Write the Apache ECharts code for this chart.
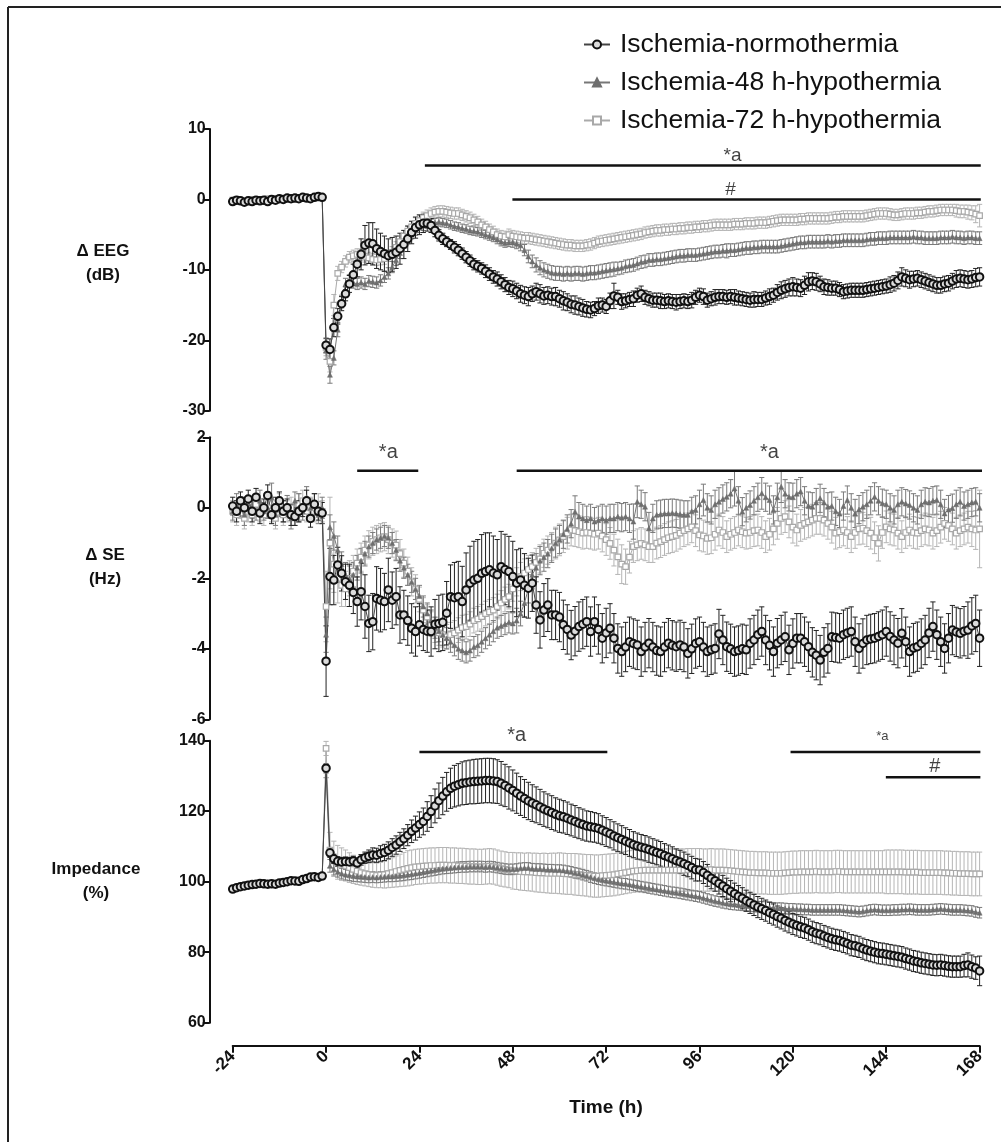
<!DOCTYPE html>
<html>
<head>
<meta charset="utf-8">
<script src="https://cdn.jsdelivr.net/npm/echarts@6/dist/echarts.min.js"></script>
<style>html,body{margin:0;padding:0;background:#fff;}#c{width:1001px;height:1142px;}</style>
</head>
<body>
<div id="c"></div>
<script>
// ---------------- DATA ----------------
const names = ['Ischemia-normothermia', 'Ischemia-48 h-hypothermia', 'Ischemia-72 h-hypothermia'];
const xTicks = [-24, 0, 24, 48, 72, 96, 120, 144, 168];
const hours = []; for (let h = -24; h <= 168; h++) hours.push(h);

// Panel 1: delta EEG (dB)
const eegN = [
-0.3,-0.1,-0.2,-0.4,-0.2,-0.3,-0.1,-0.2,-0.1,-0.3,0.0,-0.1,0.1,0.0,0.2,0.1,0.2,0.1,0.3,0.2,0.1,0.3,0.4,0.3,
-20.7,-21.3,-18.2,-16.6,-14.8,-13.4,-12.0,-10.7,-9.2,-7.8,-6.5,-6.2,
-6.3,-7.0,-7.4,-7.7,-8.0,-7.8,-7.5,-7.0,-6.4,-5.6,-4.7,-4.0,
-3.6,-3.4,-3.4,-3.7,-4.4,-5.1,-5.6,-6.0,-6.4,-6.8,-7.2,-7.7,
-8.2,-8.7,-9.2,-9.5,-9.8,-10.2,-10.6,-11.0,-11.3,-11.7,-12.1,-12.5,
-12.7,-13.0,-13.4,-13.6,-13.8,-13.4,-13.1,-13.4,-13.7,-13.6,-13.8,-13.8,
-14.1,-14.4,-14.6,-14.9,-15.0,-15.2,-15.4,-15.6,-15.7,-15.5,-15.1,-15.0,
-15.2,-14.4,-13.7,-13.9,-14.5,-14.4,-14.2,-14.1,-13.6,-13.4,-13.9,-14.1,
-14.3,-14.3,-14.4,-14.5,-14.4,-14.5,-14.6,-14.5,-14.4,-14.5,-14.3,-13.9,
-13.6,-13.8,-14.3,-14.1,-13.9,-13.8,-13.8,-13.9,-13.8,-13.9,-14.0,-14.1,
-14.2,-14.3,-14.2,-14.2,-14.2,-14.0,-13.8,-13.6,-13.2,-12.9,-12.7,-12.5,
-12.4,-12.5,-12.6,-12.2,-11.7,-11.6,-11.7,-12.0,-12.4,-12.5,-12.6,-12.6,
-12.8,-13.1,-13.0,-12.9,-12.9,-12.9,-12.9,-12.8,-12.7,-12.6,-12.5,-12.4,
-12.3,-12.1,-11.9,-11.5,-11.0,-11.2,-11.4,-11.3,-11.2,-11.4,-11.6,-11.8,
-12.0,-12.2,-12.2,-12.0,-11.9,-11.6,-11.3,-11.2,-11.3,-11.4,-11.3,-11.1,-11.0];
const eegNErr = [
0.3,0.2,0.3,0.3,0.2,0.3,0.2,0.3,0.3,0.2,0.3,0.3,0.2,0.3,0.2,0.3,0.3,0.2,0.3,0.2,0.3,0.3,0.2,0.3,
1.0,1.5,1.3,1.1,1.0,1.0,1.2,1.5,1.8,2.2,2.8,2.9,
3.0,2.8,2.6,2.5,2.4,2.4,2.3,2.2,2.0,1.8,1.6,1.5,
1.4,1.3,1.1,1.0,0.9,0.8,0.8,0.7,0.7,0.8,0.8,0.8,
0.8,0.8,0.8,0.8,0.8,0.9,0.9,0.9,1.0,1.0,1.0,1.0,
1.1,1.1,1.2,1.2,1.3,1.1,1.2,1.3,1.2,1.2,1.2,1.3,
1.2,1.3,1.2,1.2,1.3,1.2,1.2,1.1,1.1,1.0,1.1,1.0,
1.0,1.1,1.8,1.0,1.1,1.0,1.0,1.1,1.0,1.1,1.0,1.0,
1.0,1.0,1.1,1.0,1.0,1.0,1.1,1.0,1.0,1.0,1.1,1.0,
1.0,1.1,1.0,1.0,1.1,1.0,1.0,1.0,1.0,1.1,1.0,1.0,
1.0,1.0,1.1,1.0,1.0,1.0,1.1,1.0,1.1,1.2,1.2,1.2,
1.3,1.2,1.2,1.3,1.3,1.2,1.2,1.1,1.1,1.1,1.0,1.0,
1.0,1.0,1.0,1.0,1.0,1.0,1.0,1.0,1.0,1.0,1.0,1.0,
1.0,1.1,1.1,1.2,1.3,1.2,1.2,1.1,1.1,1.1,1.1,1.1,
1.1,1.1,1.1,1.1,1.1,1.1,1.2,1.2,1.2,1.2,1.2,1.3,1.3];
const eeg48 = [
-0.2,-0.1,-0.2,-0.3,-0.2,-0.2,-0.1,-0.1,-0.2,-0.2,-0.1,0.0,0.0,0.1,0.1,0.0,0.1,0.2,0.1,0.1,0.2,0.2,0.3,0.2,
-21.5,-24.9,-22.5,-18.5,-14.5,-12.0,-11.5,-11.8,-12.0,-11.8,-12.0,-11.6,
-11.7,-11.8,-11.5,-11.0,-10.5,-9.6,-8.6,-7.6,-6.6,-5.6,-4.9,-4.4,
-4.0,-3.7,-3.5,-3.4,-3.3,-3.2,-3.3,-3.4,-3.6,-3.8,-3.9,-4.1,
-4.2,-4.4,-4.5,-4.6,-4.8,-5.0,-5.2,-5.4,-5.7,-6.0,-6.2,-6.1,
-6.1,-6.3,-6.5,-7.2,-8.1,-8.8,-9.3,-9.7,-10.0,-10.2,-10.4,-10.5,
-10.5,-10.6,-10.5,-10.6,-10.5,-10.5,-10.6,-10.5,-10.4,-10.4,-10.3,-10.2,
-10.1,-10.0,-9.9,-9.8,-9.7,-9.5,-9.4,-9.3,-9.1,-8.9,-8.8,-8.6,
-8.6,-8.5,-8.5,-8.4,-8.3,-8.2,-8.1,-8.0,-8.0,-7.9,-7.9,-7.9,
-7.8,-7.7,-7.6,-7.5,-7.4,-7.4,-7.3,-7.3,-7.2,-7.2,-7.1,-7.0,
-6.9,-6.9,-6.8,-6.8,-6.7,-6.7,-6.7,-6.7,-6.7,-6.6,-6.5,-6.4,
-6.3,-6.2,-6.1,-6.1,-6.0,-6.0,-6.0,-6.0,-6.0,-5.9,-6.0,-5.9,
-5.9,-5.8,-5.8,-5.8,-5.8,-5.8,-5.8,-5.7,-5.6,-5.6,-5.5,-5.5,
-5.5,-5.4,-5.4,-5.4,-5.4,-5.4,-5.4,-5.3,-5.4,-5.4,-5.5,-5.5,
-5.5,-5.5,-5.4,-5.4,-5.4,-5.3,-5.4,-5.4,-5.5,-5.4,-5.4,-5.5,-5.5];
const eeg48Err = [
0.2,0.2,0.2,0.2,0.2,0.2,0.2,0.2,0.2,0.2,0.2,0.2,0.2,0.2,0.2,0.2,0.2,0.2,0.2,0.2,0.2,0.2,0.2,0.2,
1.2,1.2,1.0,1.0,0.9,0.8,0.8,0.8,0.8,0.8,0.8,0.8,
0.8,0.8,0.8,0.8,0.8,0.8,0.8,0.8,0.8,0.7,0.7,0.7,
0.7,0.7,0.6,0.6,0.6,0.6,0.6,0.6,0.6,0.6,0.6,0.6,
0.6,0.6,0.6,0.6,0.6,0.6,0.6,0.6,0.6,0.6,0.6,0.6,
0.7,0.7,0.8,0.8,0.9,0.9,1.0,1.0,1.0,1.0,1.0,1.0,
1.0,1.0,1.0,1.0,1.0,1.0,1.0,1.0,1.0,1.0,1.0,1.0,
1.0,1.0,1.0,0.9,0.9,0.9,0.9,0.9,0.9,0.9,0.9,0.9,
0.9,0.9,0.9,0.9,0.9,0.9,0.9,0.9,0.9,0.9,0.9,0.9,
0.9,0.9,0.9,0.9,0.9,0.9,0.9,1.0,0.9,0.9,0.9,0.9,
0.9,0.9,0.9,0.9,0.9,0.9,0.9,0.9,0.9,0.9,0.9,0.9,
0.9,0.9,0.9,0.9,0.9,0.9,0.9,0.9,0.9,0.9,0.9,0.9,
0.9,0.9,0.9,0.9,0.9,0.9,0.9,0.9,0.9,0.9,0.9,0.9,
0.9,0.9,0.9,0.9,0.9,0.9,0.9,0.9,0.9,0.9,0.9,0.9,
0.9,0.9,0.9,0.9,0.9,0.9,0.9,0.9,0.9,0.9,0.9,0.9,0.9];
const eeg72 = [
-0.1,0.0,-0.1,-0.2,-0.1,0.0,0.0,-0.1,0.0,0.1,0.0,0.1,0.1,0.0,0.1,0.2,0.1,0.1,0.2,0.2,0.1,0.2,0.3,0.2,
-21.0,-23.0,-15.0,-10.5,-9.6,-8.8,-8.2,-8.0,-7.8,-7.9,-8.1,-8.3,
-8.5,-8.6,-8.5,-8.4,-8.0,-7.5,-6.8,-6.0,-5.2,-4.5,-3.9,-3.4,
-3.0,-2.6,-2.3,-2.0,-1.8,-1.7,-1.7,-1.8,-1.9,-2.0,-2.0,-2.2,
-2.4,-2.6,-2.9,-3.2,-3.6,-3.9,-4.3,-4.6,-5.0,-5.2,-5.3,-5.0,
-5.2,-5.3,-5.4,-5.5,-5.5,-5.6,-5.7,-5.8,-5.9,-6.0,-6.1,-6.2,
-6.3,-6.4,-6.5,-6.5,-6.6,-6.6,-6.6,-6.5,-6.4,-6.2,-6.0,-5.9,
-5.8,-5.7,-5.6,-5.5,-5.4,-5.3,-5.2,-5.1,-5.0,-4.9,-4.7,-4.6,
-4.5,-4.4,-4.4,-4.3,-4.3,-4.2,-4.2,-4.1,-4.1,-4.0,-4.0,-3.9,
-3.9,-3.8,-3.8,-3.7,-3.6,-3.6,-3.6,-3.6,-3.6,-3.5,-3.5,-3.5,
-3.4,-3.4,-3.4,-3.3,-3.3,-3.3,-3.2,-3.1,-3.0,-2.9,-2.9,-2.9,
-2.9,-2.9,-2.8,-2.8,-2.7,-2.7,-2.7,-2.7,-2.7,-2.7,-2.6,-2.5,
-2.5,-2.4,-2.4,-2.4,-2.4,-2.4,-2.4,-2.3,-2.2,-2.1,-2.0,-2.0,
-2.0,-2.1,-2.2,-2.2,-2.1,-2.0,-2.0,-2.0,-1.9,-1.9,-1.8,-1.7,
-1.7,-1.6,-1.5,-1.5,-1.5,-1.5,-1.6,-1.7,-1.7,-1.8,-1.9,-2.1,-2.3];
const eeg72Err = [
0.2,0.2,0.2,0.2,0.2,0.2,0.2,0.2,0.2,0.2,0.2,0.2,0.2,0.2,0.2,0.2,0.2,0.2,0.2,0.2,0.2,0.2,0.2,0.2,
1.2,1.5,1.5,1.0,0.8,0.8,0.8,0.8,0.8,0.8,0.8,0.8,
0.8,0.8,0.8,0.8,0.8,0.8,0.8,0.8,0.8,0.8,0.8,0.8,
0.8,0.8,0.8,0.8,0.8,0.8,0.8,0.8,0.8,0.8,0.8,0.8,
0.8,0.8,0.8,0.8,0.8,0.8,0.8,0.8,0.8,0.8,0.8,0.8,
0.8,0.8,0.8,0.8,0.8,0.8,0.8,0.8,0.8,0.8,0.8,0.8,
0.8,0.8,0.8,0.8,0.8,0.8,0.8,0.8,0.8,0.8,0.8,0.8,
0.8,0.8,0.8,0.8,0.8,0.8,0.8,0.8,0.8,0.8,0.8,0.8,
0.8,0.8,0.8,0.8,0.8,0.8,0.8,0.8,0.8,0.8,0.8,0.8,
0.8,0.8,0.8,0.8,0.8,0.8,0.8,0.8,0.8,0.8,0.8,0.8,
0.8,0.8,0.8,0.8,0.8,0.8,0.8,0.8,0.8,0.8,0.8,0.8,
0.8,0.8,0.8,0.8,0.8,0.8,0.8,0.8,0.8,0.8,0.8,0.8,
0.8,0.8,0.8,0.8,0.8,0.8,0.8,0.8,0.8,0.8,0.8,0.8,
0.8,0.8,0.8,0.8,0.8,0.8,0.8,0.8,0.8,0.8,0.8,0.8,
0.8,0.8,0.8,0.8,0.8,0.8,0.9,0.9,0.9,1.0,1.0,1.2,1.6];

// Panel 2: delta SE (Hz)
const seN = [
0.05,-0.1,0.2,0.0,0.25,-0.1,0.3,-0.15,0.0,0.35,-0.2,0.0,0.2,-0.1,0.0,-0.2,-0.25,-0.1,0.0,0.2,-0.3,0.1,-0.1,-0.15,
-4.35,-1.95,-2.05,-1.62,-1.86,-2.1,-2.2,-2.4,-2.66,-2.38,-2.8,-3.28,
-3.23,-2.57,-2.62,-2.66,-2.33,-2.62,-2.52,-3.04,-3.04,-3.2,-3.42,-3.51,
-3.32,-3.45,-3.5,-3.51,-3.3,-3.28,-3.25,-2.99,-2.52,-2.55,-2.52,-2.66,
-2.33,-2.14,-2.05,-2.0,-1.86,-1.81,-1.76,-1.85,-1.9,-1.67,-1.75,-1.81,
-1.95,-2.14,-2.05,-2.2,-2.28,-2.14,-2.76,-3.18,-2.9,-2.76,-3.04,-3.04,
-3.1,-3.32,-3.45,-3.61,-3.5,-3.37,-3.3,-3.23,-3.51,-3.23,-3.45,-3.7,
-3.55,-3.42,-3.7,-3.99,-4.08,-3.95,-3.8,-3.85,-3.89,-4.08,-3.95,-3.84,
-3.95,-4.05,-4.08,-3.95,-3.84,-3.9,-3.94,-3.89,-3.95,-4.13,-4.0,-3.85,
-3.8,-3.95,-4.08,-4.03,-3.99,-3.58,-3.75,-3.94,-4.0,-4.08,-4.05,-4.0,
-4.03,-3.85,-3.75,-3.6,-3.51,-3.75,-3.9,-4.08,-3.84,-3.75,-3.66,-4.03,
-3.85,-3.7,-3.7,-3.8,-3.94,-4.1,-4.18,-4.32,-4.1,-3.99,-3.66,-3.68,
-3.7,-3.6,-3.55,-3.51,-3.8,-3.99,-3.85,-3.75,-3.72,-3.7,-3.65,-3.6,
-3.51,-3.65,-3.75,-3.84,-3.56,-3.8,-4.08,-3.98,-3.94,-3.85,-3.75,-3.55,
-3.37,-3.6,-3.8,-3.99,-3.7,-3.47,-3.52,-3.56,-3.5,-3.47,-3.35,-3.28,-3.7];
const seNErr = [
0.25,0.3,0.25,0.3,0.25,0.3,0.25,0.3,0.25,0.3,0.25,0.3,0.25,0.3,0.25,0.3,0.25,0.3,0.25,0.3,0.25,0.3,0.25,0.3,
1.0,0.8,0.7,0.5,0.5,0.5,0.6,0.6,0.7,0.8,0.9,0.8,
0.8,0.9,0.9,0.8,0.9,0.8,0.8,0.8,0.7,0.7,0.7,0.7,
0.6,0.6,0.6,0.7,0.7,0.8,0.8,0.9,0.9,1.0,1.0,1.0,
1.05,1.05,1.1,1.1,1.1,1.1,1.05,1.05,1.0,1.0,1.0,1.0,
1.0,0.95,0.9,0.9,0.85,0.8,0.8,0.8,0.75,0.75,0.7,0.7,
0.7,0.7,0.7,0.7,0.7,0.7,0.7,0.7,0.7,0.7,0.7,0.7,
0.7,0.7,0.7,0.7,0.7,0.7,0.7,0.7,0.7,0.7,0.7,0.7,
0.7,0.7,0.7,0.7,0.7,0.7,0.7,0.7,0.7,0.7,0.7,0.7,
0.7,0.7,0.7,0.7,0.7,0.7,0.7,0.7,0.7,0.7,0.7,0.7,
0.7,0.7,0.7,0.7,0.7,0.7,0.7,0.7,0.7,0.7,0.7,0.7,
0.7,0.7,0.7,0.7,0.7,0.7,0.7,0.7,0.7,0.7,0.7,0.7,
0.7,0.7,0.7,0.7,0.7,0.7,0.7,0.7,0.7,0.7,0.7,0.7,
0.7,0.7,0.7,0.7,0.7,0.7,0.7,0.7,0.7,0.7,0.7,0.7,
0.7,0.7,0.7,0.7,0.7,0.7,0.7,0.7,0.7,0.8,0.8,0.8,0.8];
const se48 = [
-0.1,0.1,0.0,-0.2,0.1,0.0,-0.1,0.2,-0.1,0.0,0.3,-0.2,0.0,-0.1,0.1,-0.3,0.2,0.0,-0.1,0.3,0.0,0.1,-0.2,0.0,
-3.6,-0.55,-0.8,-1.2,-1.6,-1.9,-2.0,-1.9,-1.7,-1.5,-1.3,-1.1,
-1.0,-0.9,-0.85,-0.8,-0.85,-1.0,-1.2,-1.5,-1.7,-1.9,-2.1,-2.3,
-2.5,-2.8,-3.0,-3.2,-3.4,-3.5,-3.6,-3.7,-3.8,-3.9,-4.0,-4.05,
-4.1,-4.05,-3.95,-3.9,-3.8,-3.7,-3.6,-3.5,-3.4,-3.35,-3.3,-3.25,
-3.28,-3.2,-3.0,-2.7,-2.3,-1.9,-1.7,-1.5,-1.4,-1.3,-1.15,-1.0,
-0.9,-0.75,-0.6,-0.45,-0.11,-0.25,-0.3,-0.35,-0.3,-0.39,-0.35,-0.3,
-0.35,-0.3,-0.3,-0.25,-0.28,-0.25,-0.3,-0.39,0.17,0.1,0.03,-0.58,
-0.3,-0.2,-0.18,-0.16,-0.16,-0.15,-0.16,-0.18,-0.2,-0.2,-0.1,-0.06,
0.1,0.22,0.0,-0.06,0.1,0.17,0.25,0.31,0.4,0.55,0.2,-0.11,
0.0,0.08,0.2,0.3,0.41,0.3,0.22,-0.06,0.3,0.6,0.4,0.31,
0.3,0.4,0.46,0.2,0.05,0.03,0.15,0.27,0.15,0.03,0.05,-0.1,
-0.16,0.05,0.22,0.0,-0.16,-0.05,0.03,0.1,0.2,0.31,0.2,0.13,
0.1,0.0,-0.06,0.1,0.17,0.12,0.08,0.0,-0.06,0.1,0.17,0.15,
0.2,0.22,0.1,-0.16,-0.05,-0.01,0.1,0.17,0.05,0.1,0.15,0.17,0.0];
const se48Err = [
0.25,0.3,0.25,0.3,0.25,0.3,0.25,0.3,0.25,0.3,0.4,0.3,0.25,0.3,0.25,0.3,0.25,0.4,0.25,0.3,0.25,0.3,0.25,0.3,
0.5,0.35,0.4,0.4,0.35,0.35,0.35,0.35,0.35,0.35,0.35,0.3,
0.3,0.3,0.3,0.3,0.3,0.3,0.3,0.3,0.3,0.3,0.3,0.3,
0.3,0.3,0.3,0.3,0.3,0.3,0.3,0.3,0.3,0.3,0.3,0.3,
0.3,0.3,0.3,0.3,0.3,0.3,0.3,0.3,0.3,0.3,0.3,0.3,
0.3,0.35,0.35,0.4,0.4,0.4,0.4,0.4,0.4,0.4,0.4,0.4,
0.4,0.4,0.4,0.4,0.45,0.4,0.4,0.4,0.4,0.4,0.4,0.4,
0.4,0.4,0.4,0.4,0.4,0.4,0.4,0.5,0.45,0.4,0.4,0.45,
0.4,0.4,0.4,0.4,0.4,0.4,0.4,0.4,0.4,0.4,0.4,0.4,
0.4,0.45,0.4,0.4,0.4,0.4,0.4,0.4,0.4,0.5,0.4,0.4,
0.4,0.4,0.4,0.4,0.45,0.4,0.4,0.4,0.4,0.45,0.4,0.4,
0.4,0.4,0.4,0.4,0.4,0.4,0.4,0.4,0.4,0.4,0.4,0.4,
0.4,0.4,0.4,0.4,0.4,0.4,0.4,0.4,0.4,0.4,0.4,0.4,
0.4,0.4,0.4,0.4,0.4,0.4,0.4,0.4,0.4,0.4,0.4,0.4,
0.4,0.4,0.4,0.4,0.4,0.4,0.4,0.4,0.4,0.4,0.4,0.4,0.4];
const se72 = [
-0.1,-0.2,0.0,-0.3,-0.1,-0.2,0.1,-0.1,-0.2,0.0,-0.1,-0.3,0.1,-0.2,-0.1,0.0,-0.2,0.1,0.2,-0.1,0.0,-0.1,0.1,-0.1,
-2.8,-1.0,-1.6,-2.0,-2.2,-2.3,-2.0,-1.8,-1.57,-1.4,-1.2,-1.05,
-0.95,-0.9,-0.85,-0.82,-0.9,-1.0,-1.06,-1.3,-1.57,-1.8,-2.1,-2.3,
-2.6,-2.9,-3.1,-3.3,-3.47,-3.55,-3.6,-3.66,-3.6,-3.55,-3.47,-3.4,
-3.37,-3.3,-3.2,-3.15,-3.09,-3.0,-2.95,-2.9,-2.8,-2.7,-2.6,-2.52,
-2.3,-2.1,-1.95,-1.85,-1.75,-1.67,-1.55,-1.45,-1.29,-1.2,-1.1,-1.0,
-0.91,-0.82,-0.72,-0.63,-0.65,-0.68,-0.72,-0.7,-0.72,-0.75,-0.72,-0.8,
-0.9,-1.01,-1.2,-1.39,-1.6,-1.67,-1.4,-1.1,-1.05,-1.01,-1.05,-1.1,
-1.1,-1.0,-0.96,-0.9,-0.85,-0.82,-0.78,-0.72,-0.65,-0.6,-0.54,-0.65,
-0.77,-0.8,-0.87,-0.85,-0.75,-0.63,-0.7,-0.82,-0.75,-0.7,-0.63,-0.68,
-0.72,-0.7,-0.65,-0.63,-0.7,-0.82,-0.75,-0.6,-0.44,-0.3,-0.25,-0.4,
-0.55,-0.63,-0.5,-0.44,-0.4,-0.35,-0.3,-0.3,-0.35,-0.44,-0.55,-0.72,
-0.68,-0.63,-0.7,-0.82,-0.7,-0.6,-0.58,-0.65,-0.72,-0.85,-1.01,-0.7,
-0.54,-0.6,-0.63,-0.72,-0.82,-0.7,-0.63,-0.7,-0.72,-0.65,-0.6,-0.63,
-0.72,-0.65,-0.55,-0.44,-0.5,-0.6,-0.72,-0.65,-0.6,-0.55,-0.6,-0.63,-0.6];
const se72Err = [
0.3,0.3,0.3,0.3,0.3,0.3,0.3,0.3,0.3,0.3,0.3,0.3,0.3,0.3,0.3,0.3,0.3,0.3,0.3,0.3,0.3,0.3,0.3,0.3,
1.0,1.3,0.8,0.7,0.6,0.5,0.5,0.45,0.4,0.4,0.4,0.4,
0.4,0.4,0.4,0.4,0.4,0.4,0.4,0.4,0.4,0.4,0.4,0.4,
0.35,0.35,0.35,0.35,0.35,0.35,0.35,0.35,0.35,0.35,0.35,0.35,
0.35,0.35,0.35,0.35,0.35,0.35,0.35,0.35,0.35,0.35,0.35,0.35,
0.35,0.4,0.4,0.4,0.4,0.4,0.4,0.4,0.4,0.4,0.4,0.45,
0.45,0.45,0.45,0.45,0.45,0.45,0.45,0.45,0.45,0.45,0.45,0.45,
0.45,0.45,0.45,0.5,0.55,0.5,0.45,0.45,0.45,0.45,0.45,0.45,
0.45,0.45,0.45,0.45,0.45,0.45,0.45,0.45,0.45,0.45,0.45,0.45,
0.45,0.45,0.45,0.45,0.45,0.45,0.45,0.45,0.45,0.45,0.45,0.45,
0.45,0.45,0.45,0.45,0.45,0.45,0.45,0.45,0.45,0.45,0.45,0.45,
0.45,0.45,0.45,0.45,0.45,0.45,0.45,0.45,0.45,0.45,0.45,0.45,
0.45,0.45,0.45,0.45,0.45,0.45,0.45,0.45,0.45,0.45,0.5,0.45,
0.45,0.45,0.45,0.45,0.45,0.45,0.45,0.45,0.45,0.45,0.45,0.45,
0.45,0.45,0.45,0.45,0.45,0.45,0.45,0.45,0.45,0.45,0.5,0.55,1.1];

// Panel 3: impedance (%)
const impN = [
97.9,98.3,98.6,98.8,99.0,99.2,99.3,99.5,99.4,99.3,99.4,99.3,99.6,99.8,100.0,100.3,100.2,100.1,100.6,100.9,101.3,101.4,101.2,101.6,
132.2,108.2,106.5,105.8,105.6,105.7,105.6,105.9,105.3,106.2,106.8,107.2,
107.6,107.5,108.0,108.3,108.9,109.7,110.4,111.3,112.2,113.2,114.3,115.2,
116.2,117.1,118.5,119.9,121.5,123.0,124.3,125.5,126.5,127.1,127.5,127.9,
128.1,128.3,128.4,128.5,128.6,128.7,128.7,128.6,128.4,127.9,127.3,126.6,
125.9,125.1,124.3,123.6,122.9,122.3,121.8,121.2,120.6,120.1,119.6,119.1,
118.7,118.4,118.0,117.5,117.1,116.6,116.2,115.8,115.6,115.4,115.1,114.6,
114.1,113.6,113.0,112.5,112.0,111.5,111.0,110.5,110.1,109.8,109.5,109.1,
108.7,108.3,107.9,107.4,107.0,106.5,106.0,105.6,105.1,104.6,104.0,103.4,
103.3,102.6,101.8,101.0,100.3,99.5,98.8,98.0,97.3,96.6,95.9,95.3,
94.6,94.0,93.4,92.8,92.3,91.8,91.2,90.7,90.1,89.6,89.0,88.5,
88.0,87.6,87.2,86.9,86.4,85.8,85.4,85.1,84.6,84.2,83.8,83.5,
83.3,82.9,82.5,82.0,81.8,81.5,81.0,80.6,80.3,80.0,79.7,79.6,
79.4,79.2,79.0,78.8,78.6,78.2,77.9,77.5,77.3,77.0,76.8,76.6,
76.4,76.3,76.4,76.2,76.0,75.9,75.9,75.9,76.2,76.4,75.9,75.5,74.7];
const impNErr = [
0.5,0.5,0.5,0.5,0.5,0.5,0.5,0.5,0.5,0.5,0.5,0.5,0.5,0.5,0.5,0.5,0.5,0.5,0.5,0.5,0.5,0.5,0.5,0.5,
1.0,1.3,1.3,1.3,1.3,1.3,1.3,1.3,1.4,1.5,1.6,1.8,
2.0,2.0,2.2,2.3,2.4,2.5,2.6,2.7,2.8,3.0,3.2,3.4,
3.6,3.8,4.2,4.5,4.8,5.0,5.3,5.5,5.7,5.9,6.0,6.1,
6.2,6.2,6.3,6.3,6.3,6.3,6.3,6.3,6.2,6.2,6.0,6.0,
5.8,5.7,5.5,5.4,5.3,5.2,5.1,5.0,4.9,4.8,4.8,4.7,
4.7,4.6,4.6,4.5,4.5,4.4,4.4,4.3,4.3,4.2,4.2,4.1,
4.1,4.0,4.0,3.9,3.9,3.8,3.8,3.7,3.7,3.6,3.6,3.6,
3.5,3.5,3.5,3.4,3.4,3.4,3.3,3.3,3.3,3.2,3.2,3.2,
3.1,3.1,3.1,3.0,3.0,3.0,3.0,3.0,3.0,3.0,3.0,3.0,
3.0,3.0,3.0,3.0,3.0,3.0,3.0,3.0,3.0,3.0,3.0,3.0,
3.0,3.0,3.0,3.0,3.0,3.0,3.0,3.0,3.0,3.0,3.0,3.0,
3.0,3.0,3.0,3.0,3.0,3.0,3.0,3.0,3.0,3.0,3.0,3.0,
3.0,3.0,3.0,3.0,3.0,3.0,3.0,3.0,3.0,3.0,3.0,3.0,
3.0,3.0,3.0,3.0,3.0,3.0,3.0,3.0,3.2,3.4,3.3,3.2,4.2];
const imp48 = [
98.0,98.2,98.5,98.9,99.1,99.1,99.4,99.4,99.5,99.4,99.3,99.4,99.5,99.7,100.1,100.2,100.3,100.2,100.5,100.8,101.2,101.3,101.3,101.5,
131.5,104.5,103.5,102.8,102.3,102.0,101.8,101.6,101.5,101.4,101.3,101.2,
101.3,101.2,101.3,101.4,101.5,101.5,101.6,101.7,101.8,102.0,102.1,102.3,
102.5,102.7,102.9,103.1,103.3,103.5,103.7,103.8,103.9,104.0,104.1,104.2,
104.2,104.3,104.3,104.3,104.3,104.2,104.3,104.2,104.0,103.8,103.6,103.5,
103.5,103.6,103.8,103.9,103.9,103.7,103.6,103.6,103.5,103.4,103.4,103.3,
103.3,103.2,103.0,102.8,102.5,102.3,102.0,101.7,101.3,101.0,100.7,100.5,
100.3,100.1,99.9,99.7,99.5,99.4,99.2,99.0,98.8,98.6,98.4,98.2,
98.0,97.8,97.6,97.4,97.2,97.0,96.9,96.7,96.5,96.3,96.1,95.9,
95.7,95.4,95.1,94.8,94.5,94.3,94.0,93.8,93.6,93.5,93.4,93.3,
93.2,93.1,93.0,92.9,92.9,92.8,92.7,92.6,92.5,92.5,92.4,92.3,
92.3,92.2,92.2,92.1,92.1,92.0,92.0,92.0,92.0,92.0,92.0,92.0,
92.0,91.9,91.8,91.7,91.6,91.5,91.6,91.8,92.0,92.1,92.0,91.9,
91.9,91.9,92.0,92.0,92.1,92.1,92.2,92.1,92.0,92.0,92.0,92.0,
92.1,92.2,92.3,92.2,92.1,92.0,92.0,92.0,91.9,91.8,91.7,91.4,91.2];
const imp48Err = [
0.4,0.4,0.4,0.4,0.4,0.4,0.4,0.4,0.4,0.4,0.4,0.4,0.4,0.4,0.4,0.4,0.4,0.4,0.4,0.4,0.4,0.4,0.4,0.4,
2.0,1.8,1.6,1.5,1.5,1.5,1.5,1.5,1.5,1.5,1.5,1.5,
1.5,1.5,1.5,1.5,1.5,1.5,1.5,1.5,1.5,1.5,1.5,1.5,
1.5,1.5,1.5,1.5,1.5,1.5,1.5,1.5,1.5,1.5,1.5,1.5,
1.5,1.5,1.5,1.5,1.5,1.5,1.5,1.5,1.5,1.5,1.5,1.5,
1.5,1.5,1.5,1.5,1.5,1.5,1.5,1.5,1.5,1.5,1.5,1.5,
1.5,1.5,1.5,1.5,1.5,1.5,1.5,1.5,1.5,1.5,1.5,1.5,
1.5,1.5,1.5,1.5,1.5,1.5,1.5,1.5,1.5,1.5,1.5,1.5,
1.5,1.5,1.5,1.5,1.5,1.5,1.5,1.5,1.5,1.5,1.5,1.5,
1.5,1.5,1.5,1.5,1.5,1.5,1.5,1.5,1.5,1.5,1.5,1.5,
1.5,1.5,1.5,1.5,1.5,1.5,1.5,1.5,1.5,1.5,1.5,1.5,
1.5,1.5,1.5,1.5,1.5,1.5,1.5,1.5,1.5,1.5,1.5,1.5,
1.5,1.5,1.5,1.5,1.5,1.5,1.5,1.5,1.5,1.5,1.5,1.5,
1.5,1.5,1.5,1.5,1.5,1.5,1.5,1.5,1.5,1.5,1.5,1.5,
1.5,1.5,1.5,1.5,1.5,1.5,1.5,1.5,1.5,1.5,1.5,1.5,1.5];
const imp72 = [
98.0,98.4,98.7,98.9,99.1,99.2,99.4,99.5,99.5,99.4,99.4,99.4,99.7,99.9,100.1,100.3,100.3,100.2,100.7,101.0,101.3,101.5,101.3,101.7,
137.8,109.0,106.5,105.5,105.0,104.6,104.0,103.5,103.0,102.6,102.3,102.1,
101.9,101.8,101.9,102.0,102.3,102.6,102.9,103.2,103.5,103.8,104.0,104.2,
104.3,104.4,104.5,104.6,104.6,104.7,104.7,104.7,104.6,104.6,104.5,104.5,
104.4,104.3,104.3,104.2,104.2,104.3,104.4,104.3,104.0,103.7,103.5,103.3,
103.1,103.0,102.9,102.8,102.8,102.7,102.6,102.5,102.5,102.4,102.4,102.4,
102.4,102.3,102.2,102.2,102.1,102.0,101.9,101.8,101.7,101.6,101.6,101.7,
101.8,101.9,102.0,102.2,102.4,102.6,102.8,103.0,103.1,103.2,103.3,103.3,
103.3,103.3,103.3,103.3,103.3,103.3,103.3,103.3,103.3,103.4,103.4,103.4,
103.4,103.3,103.3,103.4,103.3,103.3,103.3,103.2,103.1,103.0,102.9,102.8,
102.7,102.6,102.6,102.5,102.5,102.5,102.4,102.4,102.4,102.4,102.5,102.6,
102.7,102.7,102.8,102.8,102.8,102.8,102.9,102.8,102.8,102.8,102.8,102.9,
102.9,102.8,102.8,102.8,102.8,102.8,102.8,102.8,102.8,102.8,102.8,102.8,
102.8,102.8,102.8,102.8,102.8,102.7,102.7,102.7,102.7,102.6,102.6,102.6,
102.6,102.6,102.6,102.5,102.5,102.4,102.4,102.3,102.3,102.3,102.2,102.2,102.2];
const imp72Err = [
0.5,0.5,0.5,0.5,0.5,0.5,0.5,0.5,0.5,0.5,0.5,0.5,0.5,0.5,0.5,0.5,0.5,0.5,0.5,0.5,0.5,0.5,0.5,0.5,
2.0,5.0,5.0,4.8,4.6,4.4,4.2,4.0,3.8,3.6,3.5,3.5,
3.5,3.5,3.6,3.8,4.0,4.2,4.4,4.6,4.8,5.0,5.0,5.0,
5.0,5.0,5.0,5.0,5.0,5.0,5.0,5.0,5.0,5.0,5.0,5.0,
5.0,5.0,5.0,5.0,5.0,5.0,5.0,5.0,5.0,5.0,5.0,5.0,
5.2,5.2,5.3,5.3,5.4,5.4,5.5,5.5,5.6,5.6,5.7,5.7,
5.8,5.8,5.8,5.8,5.9,5.9,5.9,5.9,6.0,6.0,6.0,6.0,
6.0,6.0,6.0,6.0,6.0,6.0,6.0,6.0,6.0,6.0,6.0,6.0,
6.0,6.0,6.0,6.0,6.0,6.0,6.0,6.0,6.0,6.0,6.0,6.0,
6.0,6.0,6.0,6.0,6.0,6.0,6.0,6.0,6.0,6.0,6.0,6.0,
6.0,6.0,6.0,6.0,6.0,6.0,6.0,6.0,6.0,6.0,6.0,6.0,
6.0,6.0,6.0,6.0,6.0,6.0,6.0,6.0,6.0,6.0,6.0,6.0,
6.0,6.0,6.0,6.0,6.0,6.0,6.0,6.0,6.0,6.0,6.0,6.0,
6.2,6.2,6.2,6.2,6.2,6.2,6.2,6.2,6.2,6.2,6.2,6.2,
6.2,6.2,6.2,6.2,6.2,6.2,6.2,6.2,6.2,6.2,6.2,6.2,6.2];

// Significance bars (time span in h, level in axis units, label, label position in h)
const sigEEG = [
  {from: 25.4, to: 168.3, y: 4.8, mark: '*a', at: 104.5},
  {from: 47.9, to: 168.3, y: 0.0, mark: '#', at: 104}
];
const sigSE = [
  {from: 8.0, to: 23.7, y: 1.05, mark: '*a', at: 16},
  {from: 49.0, to: 169.0, y: 1.05, mark: '*a', at: 114}
];
const sigImp = [
  {from: 24.0, to: 72.3, y: 136.8, mark: '*a', at: 49},
  {from: 119.4, to: 168.2, y: 136.8, mark: '*a', at: 143},
  {from: 143.9, to: 168.2, y: 129.6, mark: '#', at: 156.5}
];

// ---------------- STYLE ----------------
const FONT = 'Liberation Sans, Arial, Helvetica, sans-serif';
const INK = '#111';
const sigStyle = [
  [{size: 19, gap: 0}, {size: 19, gap: 0}],
  [{size: 20, gap: 8}, {size: 20, gap: 8}],
  [{size: 20, gap: 6}, {size: 13, gap: 9}, {size: 20, gap: 0}]
];
const look = [
  {symbol: 'circle', size: 7.5, fill: '#dcdcdc', stroke: '#111111', bw: 2, line: '#444', err: '#222'},
  {symbol: 'triangle', size: 5, fill: '#6e6e6e', stroke: '#6e6e6e', bw: 0.5, line: '#777', err: '#7a7a7a'},
  {symbol: 'rect', size: 5.5, fill: '#ffffff', stroke: '#a8a8a8', bw: 1.2, line: '#aaa', err: '#b5b5b5'}
];

const chart = echarts.init(document.getElementById('c'), null, {renderer: 'canvas'});

const GL = 232.7, GW = 746.9;
const grids = [
  {left: GL, width: GW, top: 129, height: 281.7},
  {left: GL, width: GW, top: 437.3, height: 282},
  {left: GL, width: GW, top: 740.7, height: 282}
];
const yRanges = [
  {min: -30, max: 10, interval: 10},
  {min: -6, max: 2, interval: 2},
  {min: 60, max: 140, interval: 20}
];

const xAxes = grids.map((g, i) => ({
  type: 'value', gridIndex: i, min: xTicks[0], max: xTicks[xTicks.length - 1], interval: 24,
  show: i === 2, offset: 23,
  axisLine: {show: true, onZero: false, lineStyle: {color: INK, width: 2}},
  axisTick: {show: true, length: 7, lineStyle: {color: INK, width: 2}},
  axisLabel: {rotate: 45, margin: 8, color: INK, fontFamily: FONT, fontWeight: 'bold', fontSize: 17},
  splitLine: {show: false}
}));
const yAxes = yRanges.map((r, i) => ({
  type: 'value', gridIndex: i, min: r.min, max: r.max, interval: r.interval, offset: 23,
  axisLine: {show: true, onZero: false, lineStyle: {color: INK, width: 2}},
  axisTick: {show: true, length: 7, lineStyle: {color: INK, width: 2}},
  axisLabel: {margin: 4, color: INK, fontFamily: FONT, fontWeight: 'bold', fontSize: 16},
  splitLine: {show: false}
}));

function errRender(color) {
  return function (params, api) {
    const x = api.value(0), y = api.value(1), e = api.value(2);
    const t = api.coord([x, y + e]), b = api.coord([x, y - e]);
    const w = 2.6;
    const st = {stroke: color, lineWidth: 1};
    return {type: 'group', children: [
      {type: 'line', shape: {x1: t[0], y1: t[1], x2: b[0], y2: b[1]}, style: st},
      {type: 'line', shape: {x1: t[0] - w, y1: t[1], x2: t[0] + w, y2: t[1]}, style: st},
      {type: 'line', shape: {x1: b[0] - w, y1: b[1], x2: b[0] + w, y2: b[1]}, style: st}
    ]};
  };
}

const panels = [
  {vals: [eegN, eeg48, eeg72], errs: [eegNErr, eeg48Err, eeg72Err], sig: sigEEG},
  {vals: [seN, se48, se72], errs: [seNErr, se48Err, se72Err], sig: sigSE},
  {vals: [impN, imp48, imp72], errs: [impNErr, imp48Err, imp72Err], sig: sigImp}
];

const series = [];
panels.forEach((p, pi) => {
  // draw 72 h first, normothermia last (on top)
  [2, 1, 0].forEach(si => {
    const v = p.vals[si], e = p.errs[si], L = look[si];
    const n = Math.min(v.length, e.length, hours.length);
    const errData = [], lineData = [];
    for (let k = 0; k < n; k++) {
      errData.push([hours[k], v[k], e[k]]);
      lineData.push([hours[k], v[k]]);
    }
    series.push({
      type: 'custom', xAxisIndex: pi, yAxisIndex: pi, silent: true, clip: false,
      renderItem: errRender(L.err), encode: {x: 0, y: 1}, data: errData, z: 2
    });
    series.push({
      type: 'line', name: names[si], xAxisIndex: pi, yAxisIndex: pi, silent: true,
      data: lineData, symbol: L.symbol, symbolSize: L.size, showSymbol: true, showAllSymbol: true,
      lineStyle: {color: L.line, width: 1},
      itemStyle: {color: L.fill, borderColor: L.stroke, borderWidth: L.bw},
      emphasis: {disabled: true}, z: 3
    });
  });
  p.sig.forEach((s, k) => {
    const st = sigStyle[pi][k];
    series.push({
      type: 'line', xAxisIndex: pi, yAxisIndex: pi, silent: true, symbol: 'none',
      data: [[s.from, s.y], [s.to, s.y]], lineStyle: {color: INK, width: 2.5}, z: 6
    });
    series.push({
      type: 'scatter', xAxisIndex: pi, yAxisIndex: pi, silent: true, symbolSize: 1,
      itemStyle: {color: 'rgba(0,0,0,0)'}, data: [[s.at, s.y]], z: 6,
      label: {show: true, position: 'top', distance: st.gap, formatter: s.mark,
        fontFamily: FONT, fontSize: st.size, color: INK}
    });
  });
});

const titleStyle = {fontFamily: FONT, fontWeight: 'bold', fontSize: 17, fill: INK, textAlign: 'center', textVerticalAlign: 'middle'};
chart.setOption({
  animation: false,
  backgroundColor: '#fff',
  grid: grids,
  xAxis: xAxes,
  yAxis: yAxes,
  legend: {
    data: names, orient: 'vertical', left: 578, top: 26, itemWidth: 26, itemHeight: 10, itemGap: 11,
    selectedMode: false,
    textStyle: {fontFamily: FONT, fontSize: 26.5, color: INK, lineHeight: 26.5, padding: [0, 0, 0, 5]}
  },
  graphic: [
    {type: 'line', shape: {x1: 8, y1: 7, x2: 1001, y2: 7}, style: {stroke: '#222', lineWidth: 2}},
    {type: 'line', shape: {x1: 8, y1: 7, x2: 8, y2: 1142}, style: {stroke: '#222', lineWidth: 2}},
    {type: 'text', x: 103, y: 251, style: Object.assign({text: 'Δ EEG'}, titleStyle)},
    {type: 'text', x: 103, y: 275, style: Object.assign({text: '(dB)'}, titleStyle)},
    {type: 'text', x: 105, y: 555, style: Object.assign({text: 'Δ SE'}, titleStyle)},
    {type: 'text', x: 105, y: 579, style: Object.assign({text: '(Hz)'}, titleStyle)},
    {type: 'text', x: 96, y: 869, style: Object.assign({text: 'Impedance'}, titleStyle)},
    {type: 'text', x: 96, y: 893, style: Object.assign({text: '(%)'}, titleStyle)},
    {type: 'text', x: 606, y: 1108, style: Object.assign({}, titleStyle, {text: 'Time (h)', fontSize: 19})}
  ],
  series: series
});
</script>
</body>
</html>
